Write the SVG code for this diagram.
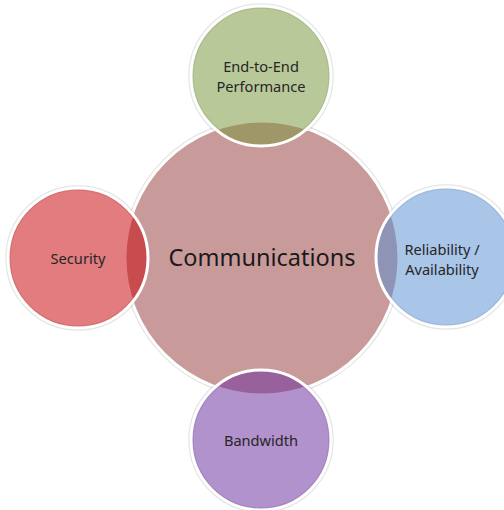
<svg xmlns="http://www.w3.org/2000/svg" width="504" height="510" viewBox="0 0 504 510">
  <style>
    .halo { fill: none; stroke: #000000; stroke-opacity: 0.1; stroke-width: 5.5; }
    .rim { stroke: #ffffff; stroke-width: 3; }
    .sat { fill-opacity: 0.52; }
    .label { font-family: "Noto Sans", "Open Sans", sans-serif; font-size: 14.6px; fill: #262626; text-anchor: middle; }
    .hub { font-family: "Noto Sans", "Open Sans", sans-serif; font-size: 23.5px; fill: #1a1a1a; text-anchor: middle; }
  </style>
  <defs>
    <!-- hides the hub's soft edge where the satellites sit on top of it -->
    <mask id="hub-edge">
      <rect width="504" height="510" fill="#ffffff"/>
      <circle cx="261" cy="76" r="71" fill="#000000"/>
      <circle cx="78" cy="258" r="71" fill="#000000"/>
      <circle cx="446" cy="257" r="71" fill="#000000"/>
      <circle cx="261" cy="440" r="71" fill="#000000"/>
    </mask>
    <!-- keeps each satellite's soft edge outside the hub -->
    <mask id="sat-edge">
      <rect width="504" height="510" fill="#ffffff"/>
      <circle cx="262" cy="258" r="136" fill="#000000"/>
    </mask>
  </defs>
  <rect width="504" height="510" fill="#ffffff"/>

  <!-- central topic -->
  <g id="communications">
    <circle class="halo" cx="262" cy="258" r="137" mask="url(#hub-edge)"/>
    <circle class="rim" cx="262" cy="258" r="137" fill="#c99a9a"/>
    <text class="hub" x="262" y="266">Communications</text>
  </g>

  <!-- satellite topics, translucent so the overlap with the hub darkens -->
  <g id="end-to-end-performance">
    <circle class="halo" cx="261" cy="76" r="70" mask="url(#sat-edge)"/>
    <circle class="rim sat" cx="261" cy="76" r="70" fill="#79953a"/>
    <text class="label" x="261" y="72">End-to-End</text>
    <text class="label" x="261" y="92">Performance</text>
  </g>

  <g id="security">
    <circle class="halo" cx="78" cy="258" r="70" mask="url(#sat-edge)"/>
    <circle class="rim sat" cx="78" cy="258" r="70" fill="#c80408"/>
    <text class="label" x="78" y="264">Security</text>
  </g>

  <g id="reliability-availability">
    <circle class="halo" cx="446" cy="257" r="70" mask="url(#sat-edge)"/>
    <circle class="rim sat" cx="446" cy="257" r="70" fill="#5a8fd3"/>
    <text class="label" x="442" y="255">Reliability /</text>
    <text class="label" x="442" y="275">Availability</text>
  </g>

  <g id="bandwidth">
    <circle class="halo" cx="261" cy="440" r="70" mask="url(#sat-edge)"/>
    <circle class="rim sat" cx="261" cy="440" r="70" fill="#6c2e9e"/>
    <text class="label" x="261" y="446">Bandwidth</text>
  </g>

  <g id="connectors"/>
</svg>
